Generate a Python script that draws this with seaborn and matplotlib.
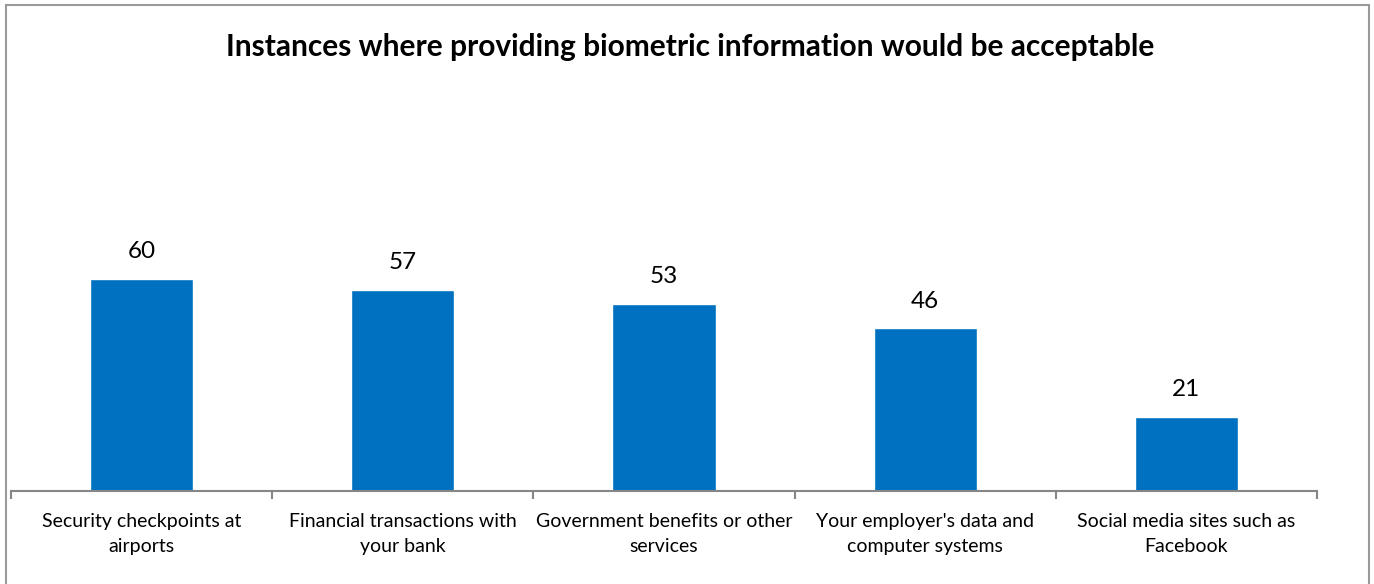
import matplotlib
matplotlib.use("Agg")
import matplotlib.pyplot as plt
import seaborn as sns
import pandas as pd
from matplotlib.patches import Rectangle

categories = ["Security checkpoints at\nairports",
              "Financial transactions with\nyour bank",
              "Government benefits or other\nservices",
              "Your employer's data and\ncomputer systems",
              "Social media sites such as\nFacebook"]
values = [60, 57, 53, 46, 21]
title = "Instances where providing biometric information would be acceptable"

sns.set_theme(style="white")
plt.rcParams['font.family'] = ['Lato', 'DejaVu Sans']

df = pd.DataFrame({"cat": categories, "val": values})

fig = plt.figure(figsize=(13.74, 5.84), dpi=100)
ax = fig.add_axes([11/1374, 1-491/584, (1317-11)/1374, (491-80)/584])
sns.barplot(data=df, x="cat", y="val", color="#0070C0", width=0.395, ax=ax, saturation=1)

ax.set_ylim(0, 411/3.533)
ax.set_xlim(-0.5, len(categories)-0.5)
ax.set_yticks([])
ax.set_xlabel("")
ax.set_ylabel("")
for s in ["top", "right", "left"]:
    ax.spines[s].set_visible(False)
ax.spines["bottom"].set_color("#868686")
ax.spines["bottom"].set_linewidth(1.5)

# boundary ticks
ax.set_xticks([i - 0.5 for i in range(len(categories)+1)], minor=True)
ax.tick_params(axis="x", which="minor", length=6, width=1.5, color="#868686", direction="out", bottom=True)
ax.tick_params(axis="x", which="major", length=0, pad=15.5, labelsize=14, labelcolor="black")
ax.set_xticks(range(len(categories)))
ax.set_xticklabels(categories, linespacing=1.62)

for i, v in enumerate(values):
    ax.annotate(f"{v}", (i, v), xytext=(0, 19.5), textcoords="offset points",
                ha="center", va="center", fontsize=17.5, color="black")

fig.text(690/1374, 1-47/584, title, ha="center", va="center", fontsize=21.5, fontweight="bold", color="black")

fig.patches.append(Rectangle((6/1374, -0.05), (1369-6)/1374, 1.05-5/584, transform=fig.transFigure,
                             fill=False, edgecolor="#9a9a9a", linewidth=1.5))

fig.savefig("out.png", dpi=100)
